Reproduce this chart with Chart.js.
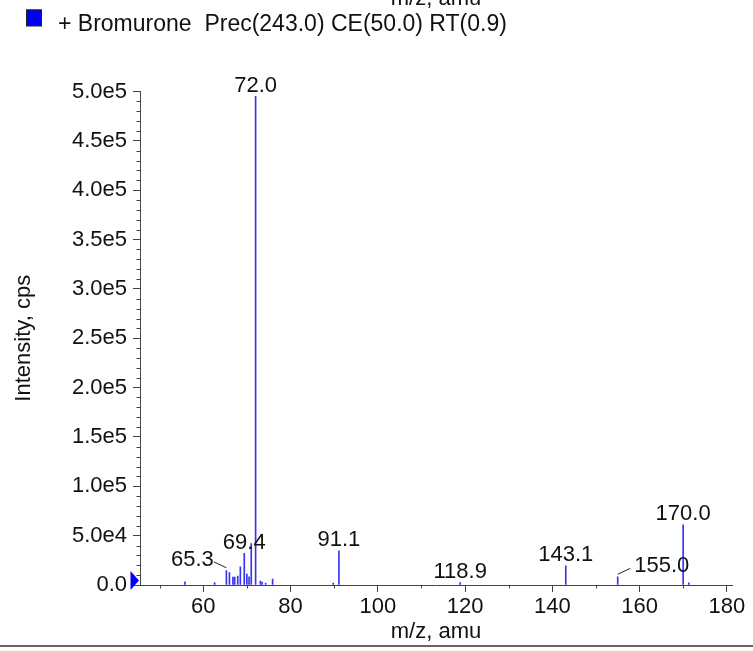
<!DOCTYPE html>
<html>
<head>
<meta charset="utf-8">
<script src="https://cdn.jsdelivr.net/npm/chart.js@4/dist/chart.umd.min.js"></script>
<style>
  html, body { margin: 0; padding: 0; background: #fff; }
  canvas { display: block; }
</style>
</head>
<body>
<canvas id="chart" width="753" height="651"></canvas>
<script>
// spettro MS/MS: m/z e intensita'
const seriesLabel = '+ Bromurone  Prec(243.0) CE(50.0) RT(0.9)';
const mzValues = [55.8, 62.6, 65.3, 66.0, 66.8, 67.2, 67.9, 68.5, 69.4, 70.0, 70.5, 71.0, 72.0,
                  73.1, 73.5, 74.3, 75.9, 89.8, 91.1, 118.9, 143.1, 155.0, 170.0, 171.3];
const intensities = [3300, 2500, 14500, 12500, 8100, 8100, 9100, 18500, 32000, 11100, 8400, 42000, 495000,
                     4000, 3000, 2000, 6000, 2000, 34700, 2500, 19300, 8400, 61000, 2200];
const labelledMz = [72.0, 69.4, 65.3, 91.1, 118.9, 143.1, 155.0, 170.0];

const xTicks = [60, 80, 100, 120, 140, 160, 180];
const yTicks = [0, 50000, 100000, 150000, 200000, 250000, 300000, 350000, 400000, 450000, 500000];
const yTickLabels = ['0.0', '5.0e4', '1.0e5', '1.5e5', '2.0e5', '2.5e5', '3.0e5', '3.5e5', '4.0e5', '4.5e5', '5.0e5'];

const FONT = '"Liberation Sans", Arial, Helvetica, sans-serif';
const barColor = '#3535f5';
const axisColor = '#444';

Chart.defaults.font.family = FONT;
Chart.defaults.color = '#111';

// spostamenti orizzontali delle etichette con linea di richiamo
const labelShift = { '65.3': -34, '155.0': 44 };

const decorations = {
  id: 'decorations',
  afterDraw(chart) {
    const ctx = chart.ctx;
    const xs = chart.scales.x;
    const ys = chart.scales.y;
    const area = chart.chartArea;
    ctx.save();

    // titolo asse del pannello precedente, tagliato in alto
    ctx.fillStyle = '#111';
    ctx.font = '22px ' + FONT;
    ctx.textAlign = 'center';
    ctx.textBaseline = 'alphabetic';
    ctx.fillText('m/z, amu', (area.left + area.right) / 2, 4.7);

    // legenda
    ctx.fillStyle = '#0000ff';
    ctx.fillRect(26, 9.5, 15.5, 16.5);
    ctx.strokeStyle = '#222';
    ctx.lineWidth = 1;
    ctx.strokeRect(26.5, 10, 15, 16);
    ctx.fillStyle = '#111';
    ctx.font = '23px ' + FONT;
    ctx.textAlign = 'left';
    ctx.fillText(seriesLabel, 58, 30.7);

    // tacche secondarie
    ctx.strokeStyle = axisColor;
    ctx.lineWidth = 1;
    ctx.beginPath();
    for (let v = 10000; v < 500000; v += 10000) {
      if (v % 50000 === 0) continue;
      const py = Math.round(ys.getPixelForValue(v)) + 0.5;
      ctx.moveTo(area.left - 3.5, py);
      ctx.lineTo(area.left, py);
    }
    for (let v = 50; v < 181; v += 20) {
      const px = Math.round(xs.getPixelForValue(v)) + 0.5;
      ctx.moveTo(px, area.bottom);
      ctx.lineTo(px, area.bottom + 3.5);
    }
    ctx.stroke();

    // triangolo sull'origine
    const y0 = ys.getPixelForValue(0);
    ctx.fillStyle = '#0000ff';
    ctx.beginPath();
    ctx.moveTo(130.5, y0 - 14);
    ctx.lineTo(139, y0 - 4.5);
    ctx.lineTo(130.5, y0 + 5);
    ctx.closePath();
    ctx.fill();

    // etichette dei picchi
    ctx.font = '22px ' + FONT;
    ctx.fillStyle = '#111';
    ctx.textAlign = 'center';
    labelledMz.forEach(mz => {
      let best = 0;
      mzValues.forEach((m, i) => {
        if (Math.abs(m - mz) < Math.abs(mzValues[best] - mz)) best = i;
      });
      const bx = xs.getPixelForValue(mzValues[best]);
      const top = ys.getPixelForValue(intensities[best]);
      const text = mz.toFixed(1);
      const shift = labelShift[text] || 0;
      const tx = bx + shift;
      const base = top - 4.8;
      ctx.fillText(text, tx, base);
      if (shift) {
        const half = ctx.measureText(text).width / 2;
        ctx.strokeStyle = '#222';
        ctx.beginPath();
        if (shift < 0) {
          ctx.moveTo(tx + half, base - 4);
          ctx.lineTo(bx, top - 3);
        } else {
          ctx.moveTo(bx, top - 2.5);
          ctx.lineTo(tx - half - 4, base - 3.5);
        }
        ctx.stroke();
      }
    });

    // linea di separazione in basso
    ctx.strokeStyle = '#333';
    ctx.lineWidth = 1.7;
    ctx.beginPath();
    ctx.moveTo(0, 646);
    ctx.lineTo(753, 646);
    ctx.stroke();

    ctx.restore();
  }
};

new Chart(document.getElementById('chart').getContext('2d'), {
  type: 'bar',
  data: {
    datasets: [{
      label: seriesLabel,
      data: mzValues.map((m, i) => ({ x: m, y: intensities[i] })),
      backgroundColor: barColor,
      borderWidth: 0,
      barThickness: 1,
      grouped: false
    }]
  },
  options: {
    responsive: false,
    animation: false,
    layout: { padding: { top: 91.5, right: 21, bottom: 0, left: 0 } },
    plugins: {
      legend: { display: false },
      tooltip: { enabled: false }
    },
    scales: {
      x: {
        type: 'linear',
        offset: false,
        min: 45.5,
        max: 181.2,
        afterBuildTicks: scale => { scale.ticks = xTicks.map(v => ({ value: v })); },
        afterFit: scale => { scale.height = 66; },
        ticks: {
          font: { size: 22 },
          color: '#111',
          padding: 2,
          maxRotation: 0,
          autoSkip: false,
          callback: v => String(v)
        },
        grid: { offset: false, drawOnChartArea: false, tickLength: 7, tickColor: axisColor },
        border: { color: axisColor, width: 1 },
        title: {
          display: true,
          text: 'm/z, amu',
          font: { size: 22 },
          color: '#111',
          padding: { top: 4, bottom: 6 }
        }
      },
      y: {
        min: 0,
        max: 500000,
        afterBuildTicks: scale => { scale.ticks = yTicks.map(v => ({ value: v })); },
        afterFit: scale => { scale.width = 140; },
        ticks: {
          font: { size: 22 },
          color: '#111',
          padding: 6,
          autoSkip: false,
          callback: (v, i) => yTickLabels[i]
        },
        grid: { drawOnChartArea: false, tickLength: 7, tickColor: axisColor },
        border: { color: axisColor, width: 1 },
        title: {
          display: true,
          text: 'Intensity, cps',
          font: { size: 22 },
          color: '#111',
          padding: { top: 11, bottom: 0 }
        }
      }
    }
  },
  plugins: [decorations]
});
</script>
</body>
</html>
